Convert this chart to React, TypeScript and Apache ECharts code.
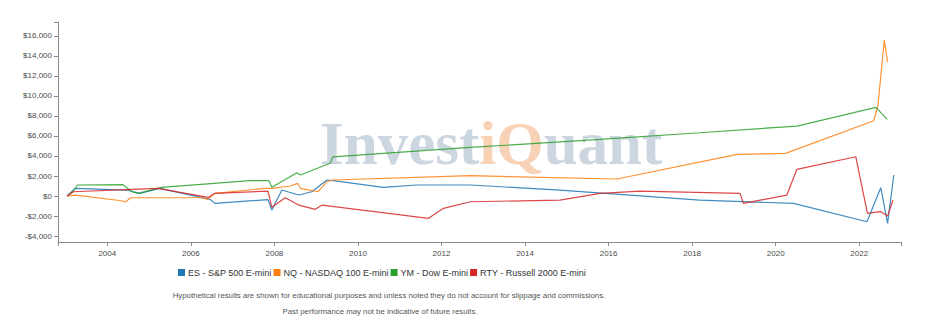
import React, { useEffect, useRef } from "react";
import * as echarts from "echarts";

// Cumulative P&L per contract (USD), sampled at the turning points of each curve
const esDates = [
  "2003-01-15", "2003-03-25", "2004-06-20", "2004-10-12", "2005-04-05", "2006-06-17",
  "2006-07-31", "2007-11-06", "2007-12-10", "2008-03-07", "2008-07-31", "2008-11-24",
  "2009-04-05", "2009-05-30", "2010-08-10", "2011-05-29", "2012-09-10", "2014-11-02",
  "2018-03-10", "2020-06-06", "2022-03-10", "2022-07-08", "2022-09-06", "2022-10-30",
];
const esValues = [
  0, 770, 600, 270, 770, -330,
  -730, -350, -1400, 600, 100, 430,
  1600, 1530, 870, 1100, 1100, 600,
  -400, -730, -2570, 830, -2730, 2100,
];

const nqDates = [
  "2003-01-15", "2003-03-25", "2004-05-08", "2004-06-06", "2004-07-27", "2006-04-05",
  "2006-05-30", "2006-07-31", "2007-10-12", "2007-12-10", "2008-05-18", "2008-07-23",
  "2008-08-15", "2009-01-19", "2009-04-05", "2009-05-30", "2012-09-10", "2016-03-13",
  "2019-01-30", "2020-03-28", "2022-05-08", "2022-06-14", "2022-08-08", "2022-09-06",
];
const nqValues = [
  0, 100, -470, -600, -170, -170,
  -330, 270, 770, 770, 1000, 1270,
  770, 430, 1430, 1600, 2030, 1700,
  4160, 4260, 7520, 9090, 15580, 13380,
];

const ymDates = [
  "2003-01-15", "2003-03-07", "2003-04-16", "2004-05-18", "2004-08-04", "2004-09-27",
  "2005-04-19", "2007-06-03", "2007-11-14", "2007-12-10", "2008-07-16", "2008-08-15",
  "2009-05-04", "2009-05-27", "2012-09-10", "2015-10-19", "2018-03-10", "2020-07-05",
  "2022-05-27", "2022-09-02",
];
const ymValues = [
  0, 430, 1100, 1130, 430, 270,
  870, 1530, 1530, 870, 2330, 2100,
  3270, 3920, 4850, 5650, 6320, 6990,
  8860, 7660,
];

const rtyDates = [
  "2003-01-15", "2003-03-10", "2004-08-04", "2005-03-20", "2006-06-03", "2006-07-31",
  "2007-11-06", "2007-12-10", "2008-04-05", "2008-07-31", "2008-12-24", "2009-02-21",
  "2011-09-10", "2012-01-19", "2012-09-10", "2014-11-02", "2015-10-19", "2016-10-05",
  "2019-02-24", "2019-03-25", "2020-04-08", "2020-07-05", "2021-12-02", "2022-03-14",
  "2022-07-05", "2022-09-06", "2022-10-23",
];
const rtyValues = [
  0, 430, 670, 770, -130, 270,
  500, -1130, -170, -900, -1330, -900,
  -2230, -1230, -570, -400, 270, 500,
  270, -730, 100, 2670, 3920, -1730,
  -1550, -2000, -400,
];

const seriesNames = [
  "ES - S&P 500 E-mini",
  "NQ - NASDAQ 100 E-mini",
  "YM - Dow E-mini",
  "RTY - Russell 2000 E-mini",
];
const seriesColors = ["#1f77b4", "#ff7f0e", "#2ca02c", "#d62728"];

const yearTicks = [2004, 2006, 2008, 2010, 2012, 2014, 2016, 2018, 2020, 2022];
const dollarTicks = [-4000, -2000, 0, 2000, 4000, 6000, 8000, 10000, 12000, 14000, 16000];

const xMin = 2002.82;
const xMax = 2023.0;
const yMin = -4590;
const yMax = 17380;

const disclaimerLine1 =
  "Hypothetical results are shown for educational purposes and unless noted they do not account for slippage and commissions.";
const disclaimerLine2 = "Past performance may not be indicative of future results.";

// date string -> fractional year
function toYear(d: string): number {
  const [y, m, day] = d.split("-").map(Number);
  const start = Date.UTC(y, 0, 1);
  const next = Date.UTC(y + 1, 0, 1);
  return y + (Date.UTC(y, m - 1, day) - start) / (next - start);
}

function pairs(dates: string[], values: number[]): [number, number][] {
  return dates.map((d, i) => [toYear(d), values[i]]);
}

function money(v: number): string {
  const s = "$" + Math.abs(v).toLocaleString("en-US");
  return v < 0 ? "-" + s : s;
}

const FONT = "'Liberation Sans', Arial, sans-serif";

export default function App() {
  const ref = useRef<HTMLDivElement>(null);

  useEffect(() => {
    document.body.style.margin = "0";
    if (!ref.current) return;
    const chart = echarts.init(ref.current, undefined, { renderer: "svg" });

    const allData = [
      pairs(esDates, esValues),
      pairs(nqDates, nqValues),
      pairs(ymDates, ymValues),
      pairs(rtyDates, rtyValues),
    ];

    chart.setOption({
      animation: false,
      backgroundColor: "#ffffff",
      grid: { left: 58, right: 42, top: 22, bottom: 84, outerBoundsMode: "none" },
      xAxis: {
        type: "value",
        min: xMin,
        max: xMax,
        axisLine: { show: true, onZero: false, lineStyle: { color: "#8a8a8a", width: 1 } },
        axisTick: {
          show: true,
          length: 4,
          customValues: [xMin, ...yearTicks, xMax],
          lineStyle: { color: "#8a8a8a" },
        },
        axisLabel: {
          customValues: yearTicks,
          formatter: (v: number) => String(Math.round(v)),
          color: "#4a4a4a",
          fontSize: 8,
          fontFamily: FONT,
          margin: 7,
        },
        splitLine: { show: false },
      },
      yAxis: {
        type: "value",
        min: yMin,
        max: yMax,
        axisLine: { show: true, onZero: false, lineStyle: { color: "#8a8a8a", width: 1 } },
        axisTick: {
          show: true,
          length: 4,
          customValues: [...dollarTicks, yMax],
          lineStyle: { color: "#8a8a8a" },
        },
        axisLabel: {
          customValues: dollarTicks,
          formatter: (v: number) => money(v),
          color: "#4a4a4a",
          fontSize: 8,
          fontFamily: FONT,
          margin: 6,
        },
        splitLine: { show: false },
      },
      legend: {
        left: 178,
        top: 268,
        padding: 0,
        itemWidth: 7,
        itemHeight: 7,
        itemGap: 2,
        icon: "rect",
        data: seriesNames,
        textStyle: { fontSize: 9, color: "#333", fontFamily: FONT, padding: [0, 0, 0, -2] },
      },
      graphic: [
        {
          type: "text",
          x: 320,
          y: 143.5,
          z: -10,
          silent: true,
          style: {
            text: "{a|Invest}{b|iQ}{a|uant}",
            verticalAlign: "middle",
            align: "left",
            rich: {
              a: {
                fontFamily: "'Liberation Serif', 'Times New Roman', serif",
                fontWeight: "bold",
                fontSize: 61,
                fill: "#ccd6e0",
              },
              b: {
                fontFamily: "'Liberation Serif', 'Times New Roman', serif",
                fontWeight: "bold",
                fontSize: 61,
                fill: "#f7d2b6",
              },
            },
          },
        },
        {
          type: "text",
          x: 389,
          y: 295,
          silent: true,
          style: {
            text: disclaimerLine1,
            align: "center",
            verticalAlign: "middle",
            fontSize: 7.8,
            fontFamily: FONT,
            fill: "#555",
          },
        },
        {
          type: "text",
          x: 380,
          y: 311,
          silent: true,
          style: {
            text: disclaimerLine2,
            align: "center",
            verticalAlign: "middle",
            fontSize: 7.8,
            fontFamily: FONT,
            fill: "#555",
          },
        },
      ],
      series: seriesNames.map((name, i) => ({
        name,
        type: "line",
        data: allData[i],
        showSymbol: false,
        symbol: "none",
        color: seriesColors[i],
        lineStyle: { width: 1.2, color: seriesColors[i], opacity: 0.85 },
        z: 3,
      })),
    });

    return () => chart.dispose();
  }, []);

  return <div ref={ref} style={{ width: 943, height: 326 }} />;
}
